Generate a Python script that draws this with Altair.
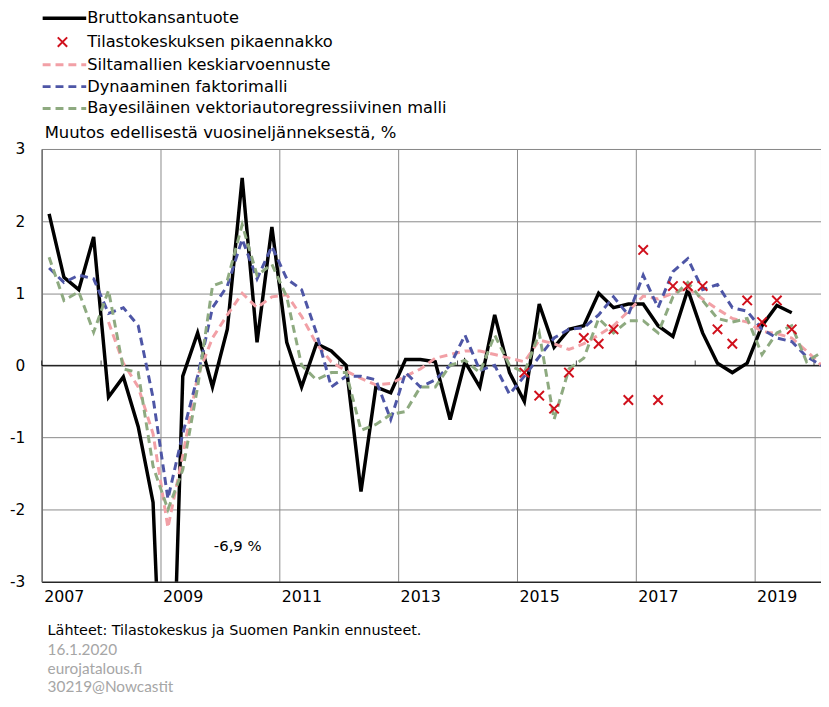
import altair as alt
import pandas as pd

# Quarters 2007Q1 .. 2020Q1
quarters = [f"{y}Q{q}" for y in range(2007, 2021) for q in range(1, 5)][:53]

gdp = [2.1, 1.22, 1.05, 1.78, -0.44, -0.16, -0.85, -1.9, -6.9, -0.15,
       0.45, -0.3, 0.5, 2.6, 0.32, 1.92, 0.32, -0.3, 0.3, 0.2,
       0.0, -1.75, -0.3, -0.38, 0.08, 0.08, 0.05, -0.75, 0.05, -0.3,
       0.7, -0.1, -0.5, 0.85, 0.25, 0.5, 0.55, 1.0, 0.8, 0.85,
       0.85, 0.55, 0.4, 1.05, 0.45, 0.03, -0.1, 0.03, 0.55, 0.83,
       0.73, None, None]

flash = [None] * 32 + [-0.1, -0.42, -0.6, -0.1, 0.38, 0.3, 0.5, -0.48, 1.6, -0.48,
                       1.1, 1.1, 1.1, 0.5, 0.3, 0.9, 0.6, 0.9, 0.5, None, None]

bridge = [None, None, None, None, 0.6, 0.03, -0.3, -0.95, -2.25, -1.25,
          -0.15, 0.38, 0.7, 1.0, 0.8, 0.95, 0.98, 0.68, 0.3, 0.05,
          -0.08, -0.18, -0.27, -0.25, -0.15, -0.05, 0.1, 0.15, 0.2, 0.2,
          0.15, 0.1, 0.05, 0.35, 0.3, 0.22, 0.3, 0.42, 0.55, 0.75,
          0.96, 0.92, 1.0, 1.07, 0.92, 0.78, 0.65, 0.6, 0.47, 0.44,
          0.38, 0.2, 0.0]

dfm = [1.35, 1.15, 1.25, 1.2, 0.72, 0.8, 0.55, -0.45, -1.85, -0.95,
       -0.15, 0.8, 1.1, 1.75, 1.2, 1.65, 1.2, 1.05, 0.45, -0.3,
       -0.15, -0.15, -0.2, -0.75, -0.1, -0.3, -0.2, 0.0, 0.42, -0.07,
       0.0, -0.4, -0.15, 0.12, 0.38, 0.5, 0.52, 0.7, 0.95, 0.7,
       1.25, 0.8, 1.3, 1.48, 1.05, 1.12, 0.8, 0.75, 0.5, 0.38,
       0.33, 0.12, 0.0]

bvar = [1.5, 0.9, 1.02, 0.46, 1.04, -0.05, -0.1, -1.4, -2.0, -1.45,
        -0.3, 1.1, 1.18, 1.95, 1.25, 1.4, 0.95, 0.0, -0.2, -0.1,
        -0.1, -0.9, -0.82, -0.68, -0.64, -0.3, -0.3, 0.0, 0.07, -0.1,
        0.42, 0.0, -0.1, 0.45, -0.75, -0.05, 0.1, 0.65, 0.45, 0.62,
        0.62, 0.45, 0.95, 1.15, 0.9, 0.65, 0.6, 0.65, 0.15, 0.45,
        0.55, 0.05, 0.18]

names = ["Bruttokansantuote", "Tilastokeskuksen pikaennakko", "Siltamallien keskiarvoennuste",
         "Dynaaminen faktorimalli", "Bayesiläinen vektoriautoregressiivinen malli"]
y_title = "Muutos edellisestä vuosineljänneksestä, %"
source_text = "Lähteet: Tilastokeskus ja Suomen Pankin ennusteet."
footer_lines = ["16.1.2020", "eurojatalous.fi", "30219@Nowcastit"]
annotation = "-6,9 %"

FONT = "DejaVu Sans"


def frame(values):
    rows = [{"q": q, "x": i + 0.5, "v": v} for i, (q, v) in enumerate(zip(quarters, values)) if v is not None]
    return pd.DataFrame(rows)


xscale = alt.Scale(domain=[0, 52.47], nice=False, zero=False)
yscale = alt.Scale(domain=[-3, 3], nice=False)

x_enc = alt.X("x:Q", scale=xscale, axis=alt.Axis(
    values=[0, 8, 16, 24, 32, 40, 48], labelExpr="'' + (2007 + datum.value / 4)",
    labelAlign="left", labelBaseline="top", labelPadding=7, labelOffset=2, labelFontSize=16,
    labelFont=FONT, labelColor="black", tickSize=0, domainColor="black",
    gridColor="#8a8a8a", title=None, labelOverlap=False, labelBound=False, labelFlush=False))
y_enc = alt.Y("v:Q", scale=yscale, axis=alt.Axis(
    values=[-3, -2, -1, 0, 1, 2, 3], labelExpr="'' + datum.value", labelFontSize=15.5, labelFont=FONT,
    labelColor="black", labelPadding=17, tickSize=0, domainColor="#666666", gridColor="#8a8a8a",
    title=None, labelOverlap=False, labelBound=False, labelFlush=False))

zero = alt.Chart(pd.DataFrame({"v": [0]})).mark_rule(color="black", strokeWidth=1).encode(y=alt.Y("v:Q", scale=yscale))
yticks = alt.Chart(pd.DataFrame({"x": list(range(0, 53, 4)), "v": [0] * 14})).mark_tick(
    color="black", thickness=1, size=5, yOffset=-2.5, orient="vertical").encode(
    x=alt.X("x:Q", scale=xscale), y=alt.Y("v:Q", scale=yscale))

black = alt.Chart(frame(gdp)).mark_line(color="black", strokeWidth=3.5, clip=True).encode(x=x_enc, y=y_enc)
pink = alt.Chart(frame(bridge)).mark_line(color="#f2a0a6", strokeWidth=3, strokeDash=[8, 5], clip=True).encode(x=x_enc, y=y_enc)
blue = alt.Chart(frame(dfm)).mark_line(color="#4e56a6", strokeWidth=3, strokeDash=[8, 5], clip=True).encode(x=x_enc, y=y_enc)
green = alt.Chart(frame(bvar)).mark_line(color="#8eaa80", strokeWidth=3, strokeDash=[8, 5], clip=True).encode(x=x_enc, y=y_enc)

CROSS = "M-1,-1L1,1M-1,1L1,-1"
crosses = alt.Chart(frame(flash)).mark_point(shape=CROSS, size=90, color="#d0101c", strokeWidth=2, filled=False, opacity=1).encode(x=x_enc, y=y_enc)

ann = alt.Chart(pd.DataFrame({"x": [13.2], "v": [-2.5], "t": [annotation]})).mark_text(
    font=FONT, fontSize=15, color="black", align="center", baseline="middle").encode(
    x=alt.X("x:Q", scale=xscale), y=alt.Y("v:Q", scale=yscale), text="t:N")

one = pd.DataFrame({"a": [0]})
leg = []
leg_y = [-132, -108, -85, -63, -41]
styles = [("black", None, 3.5), None, ("#f2a0a6", [8, 5], 3), ("#4e56a6", [8, 5], 3), ("#8eaa80", [8, 5], 3)]
for name, yy, st in zip(names, leg_y, styles):
    if st is None:
        leg.append(alt.Chart(one).mark_point(shape=CROSS, size=90, color="#d0101c", strokeWidth=2, filled=False, opacity=1).encode(
            x=alt.value(21), y=alt.value(yy)))
    else:
        c, d, w = st
        kw = dict(color=c, strokeWidth=w)
        if d:
            kw["strokeDash"] = d
        leg.append(alt.Chart(one).mark_rule(**kw).encode(x=alt.value(1), x2=alt.value(45), y=alt.value(yy)))
    leg.append(alt.Chart(one).mark_text(font=FONT, fontSize=16.4, align="left", baseline="middle", color="black").encode(
        x=alt.value(46), y=alt.value(yy), text=alt.value(name)))

texts = [
    alt.Chart(one).mark_text(font=FONT, fontSize=16.6, align="left", baseline="middle", color="black").encode(
        x=alt.value(3), y=alt.value(-16), text=alt.value(y_title)),
    alt.Chart(one).mark_text(font=FONT, fontSize=14.5, align="left", baseline="middle", color="black").encode(
        x=alt.value(6), y=alt.value(487), text=alt.value(source_text)),
]
for yy, t in zip([506, 525, 543], footer_lines):
    texts.append(alt.Chart(one).mark_text(font="Lato", fontSize=15.5, align="left", baseline="middle", color="#a6a6a6").encode(
        x=alt.value(6), y=alt.value(yy), text=alt.value(t)))

chart = alt.layer(zero, yticks, black, pink, blue, green, crosses, ann, *leg, *texts).properties(
    width=787, height=437,
    autosize=alt.AutoSizeParams(type="none"),
    padding={"left": 34, "top": 139, "right": 0, "bottom": 112},
).configure_view(stroke="#777777", strokeWidth=1).configure_axis(grid=True)

chart.save("out.html", embed_options={"renderer": "svg", "actions": False})
